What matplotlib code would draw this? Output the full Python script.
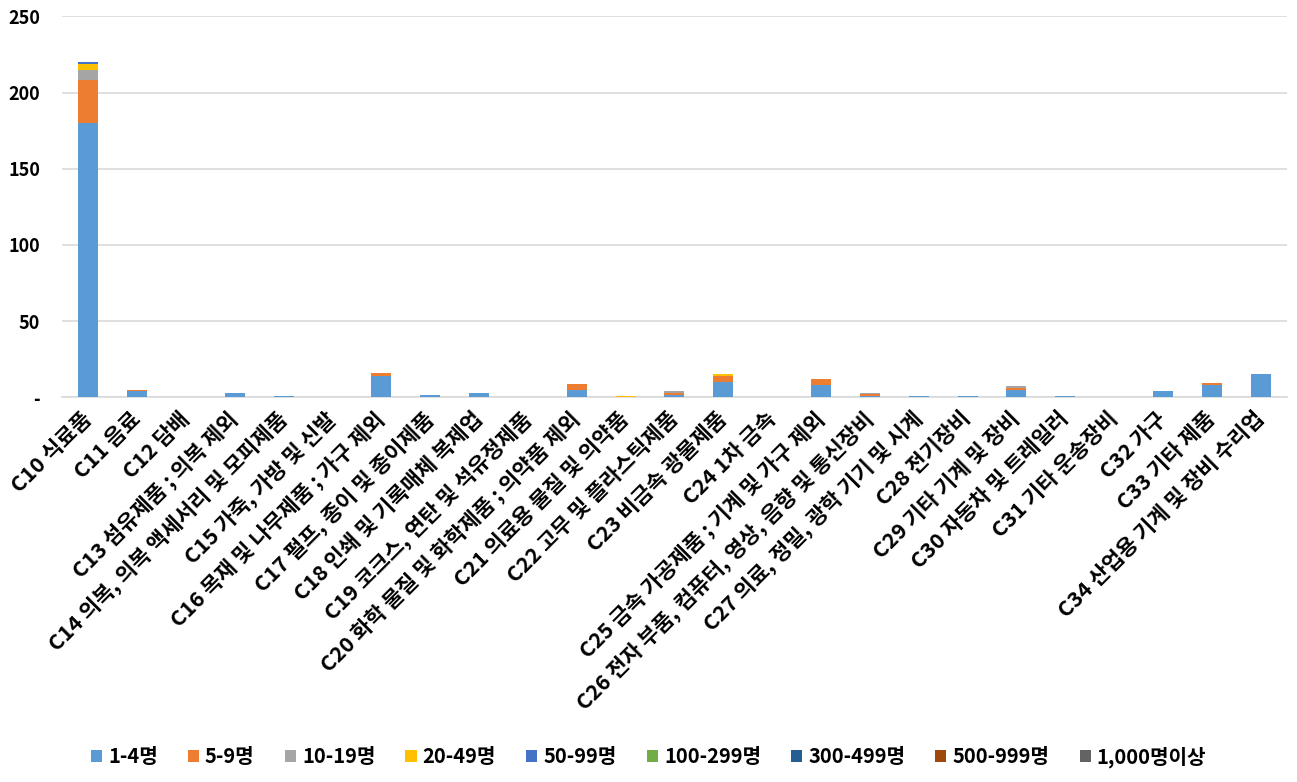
"""Stacked bar chart: number of firms by industry and employee size."""

import matplotlib
matplotlib.use('Agg')
import matplotlib.pyplot as plt
import numpy as np

plt.rcParams['font.family'] = ['Noto Sans CJK KR', 'DejaVu Sans']
plt.rcParams['font.weight'] = 'bold'

categories = [
    'C10 식료품', 'C11 음료', 'C12 담배', 'C13 섬유제품 ; 의복 제외',
    'C14 의복, 의복 액세서리 및 모피제품', 'C15 가죽, 가방 및 신발',
    'C16 목재 및 나무제품 ; 가구 제외', 'C17 펄프, 종이 및 종이제품',
    'C18 인쇄 및 기록매체 복제업', 'C19 코크스, 연탄 및 석유정제품',
    'C20 화학 물질 및 화학제품 ; 의약품 제외', 'C21 의료용 물질 및 의약품',
    'C22 고무 및 플라스틱제품', 'C23 비금속 광물제품', 'C24 1차 금속',
    'C25 금속 가공제품 ; 기계 및 가구 제외',
    'C26 전자 부품, 컴퓨터, 영상, 음향 및 통신장비',
    'C27 의료, 정밀, 광학 기기 및 시계', 'C28 전기장비',
    'C29 기타 기계 및 장비', 'C30 자동차 및 트레일러', 'C31 기타 운송장비',
    'C32 가구', 'C33 기타 제품', 'C34 산업용 기계 및 장비 수리업',
]

series_names = ['1-4명', '5-9명', '10-19명', '20-49명', '50-99명',
                '100-299명', '300-499명', '500-999명', '1,000명이상']

# values per category, C10 .. C34
s_1_4 = [180, 4, 0, 2.7, 0.7, 0, 13.8, 1.8, 2.6, 0, 4.5, 0, 1.7, 9.8, 0,
         7.9, 0.7, 0.7, 0.7, 4.5, 0.7, 0, 3.9, 7.9, 15.1]
s_5_9 = [28, 0.7, 0, 0, 0, 0, 2, 0, 0, 0, 4.5, 0, 0.9, 3.9, 0,
         3.9, 1.3, 0, 0, 1.4, 0, 0, 0, 1.2, 0]
s_10_19 = [6.6, 0, 0, 0, 0, 0, 0, 0, 0, 0, 0, 0, 1.3, 0, 0,
           0, 0.7, 0, 0, 1.4, 0, 0, 0, 0, 0]
s_20_49 = [4, 0, 0, 0, 0, 0, 0, 0, 0, 0, 0, 0.6, 0, 1.3, 0,
           0, 0, 0, 0, 0, 0, 0, 0, 0, 0]
s_50_99 = [1.2] + [0] * 24
s_100_299 = [0] * 25
s_300_499 = [0] * 25
s_500_999 = [0] * 25
s_1000 = [0] * 25

colors = ['#5B9BD5', '#ED7D31', '#A5A5A5', '#FFC000', '#4472C4',
          '#70AD47', '#255E91', '#9E480E', '#636363']

data = [s_1_4, s_5_9, s_10_19, s_20_49, s_50_99,
        s_100_299, s_300_499, s_500_999, s_1000]

fig = plt.figure(figsize=(12.97, 7.82), dpi=100)
ax = fig.add_axes([0.048, 0.492, 0.944, 0.487])

x = np.arange(len(categories))
bottom = np.zeros(len(categories))
for name, vals, c in zip(series_names, data, colors):
    vals = np.array(vals, dtype=float)
    ax.bar(x, vals, 0.41, bottom=bottom, color=c, label=name, zorder=3)
    bottom += vals

ax.set_xlim(-0.53, len(categories) - 0.47)
ax.set_ylim(0, 250)
ax.set_yticks(range(0, 251, 50))
ax.set_yticklabels(['-'] + [str(v) for v in range(50, 251, 50)])
ax.grid(axis='y', color='#D9D9D9', linewidth=1.2, zorder=0)
for side in ['top', 'right', 'left']:
    ax.spines[side].set_visible(False)
ax.spines['bottom'].set_color('#D9D9D9')
ax.spines['bottom'].set_linewidth(1.2)
ax.tick_params(axis='y', length=0, pad=16, labelsize=13)
ax.tick_params(axis='x', length=0, pad=13, labelsize=15.5)
ax.set_xticks(x)
ax.set_xticklabels(categories, rotation=45, ha='right',
                   rotation_mode='anchor', va='center')

fig.legend(loc='lower center', bbox_to_anchor=(0.5, -0.005), ncol=9,
           frameon=False, fontsize=14.5, handlelength=0.55, handleheight=0.55,
           handletextpad=0.3, columnspacing=1.5)

fig.savefig('out.png', dpi=100)
